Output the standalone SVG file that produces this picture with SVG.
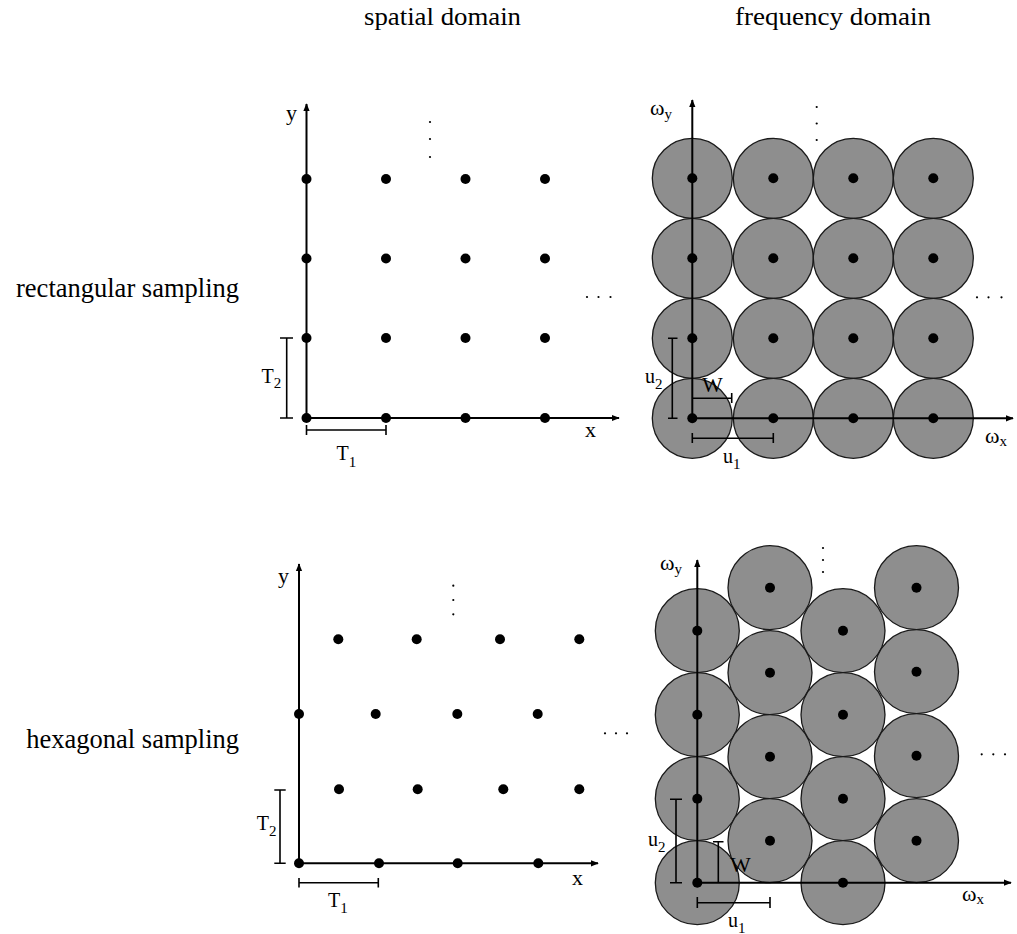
<svg xmlns="http://www.w3.org/2000/svg" width="1017" height="934" viewBox="0 0 1017 934">
<defs>
<style>
text{font-family:"Liberation Serif","Times New Roman",serif;fill:#000}
.h{font-size:26px}
.lab{font-size:26.5px}
.ax{font-size:22px}
.sm{font-size:20px}
.sub{font-size:15px}
.axis{stroke:#000;stroke-width:2;fill:none}
.br{stroke:#000;stroke-width:1.6;fill:none}
.c{fill:#8e8e8e;stroke:#1a1a1a;stroke-width:1.3}
</style>
<marker id="arr" viewBox="0 0 10 10" refX="9" refY="5" markerWidth="4" markerHeight="4" orient="auto"><path d="M0,1 L10,5 L0,9 z" fill="#000"/></marker>
<circle id="d" r="5" fill="#000"/>
<circle id="e" r="1.1" fill="#000"/>
</defs>
<rect width="1017" height="934" fill="#fff"/>

<g id="headers">
<text class="h" x="364" y="25" textLength="157" lengthAdjust="spacingAndGlyphs">spatial domain</text>
<text class="h" x="735" y="25" textLength="196" lengthAdjust="spacingAndGlyphs">frequency domain</text>
<text class="lab" x="239" y="297" text-anchor="end">rectangular sampling</text>
<text class="lab" x="239" y="748" text-anchor="end">hexagonal sampling</text>
</g>

<g id="rect-spatial">
<g id="rs-dots">
<use href="#d" x="306.5" y="179"/><use href="#d" x="386" y="179"/><use href="#d" x="465.5" y="179"/><use href="#d" x="545" y="179"/>
<use href="#d" x="306.5" y="258.5"/><use href="#d" x="386" y="258.5"/><use href="#d" x="465.5" y="258.5"/><use href="#d" x="545" y="258.5"/>
<use href="#d" x="306.5" y="338"/><use href="#d" x="386" y="338"/><use href="#d" x="465.5" y="338"/><use href="#d" x="545" y="338"/>
<use href="#d" x="306.5" y="418"/><use href="#d" x="386" y="418"/><use href="#d" x="465.5" y="418"/><use href="#d" x="545" y="418"/>
</g>
<g id="rs-ellipsis">
<use href="#e" x="430" y="122"/><use href="#e" x="430" y="139"/><use href="#e" x="430" y="157"/>
<use href="#e" x="587" y="297"/><use href="#e" x="598.5" y="297"/><use href="#e" x="610.5" y="297"/>
</g>
<g id="rs-labels">
<text class="ax" x="286" y="120">y</text>
<text class="ax" x="585" y="437">x</text>
<text class="sm" x="261.5" y="383">T<tspan class="sub" dy="5">2</tspan></text>
<text class="sm" x="336.5" y="460">T<tspan class="sub" dy="7">1</tspan></text>
</g>
</g>

<g id="rect-frequency">
<g id="rf-circles">
<circle class="c" cx="692.3" cy="178.3" r="40"/><circle class="c" cx="773.3" cy="178.3" r="40"/><circle class="c" cx="853.3" cy="178.3" r="40"/><circle class="c" cx="933.3" cy="178.3" r="40"/>
<circle class="c" cx="692.3" cy="258.3" r="40"/><circle class="c" cx="773.3" cy="258.3" r="40"/><circle class="c" cx="853.3" cy="258.3" r="40"/><circle class="c" cx="933.3" cy="258.3" r="40"/>
<circle class="c" cx="692.3" cy="338.3" r="40"/><circle class="c" cx="773.3" cy="338.3" r="40"/><circle class="c" cx="853.3" cy="338.3" r="40"/><circle class="c" cx="933.3" cy="338.3" r="40"/>
<circle class="c" cx="692.3" cy="418.3" r="40"/><circle class="c" cx="773.3" cy="418.3" r="40"/><circle class="c" cx="853.3" cy="418.3" r="40"/><circle class="c" cx="933.3" cy="418.3" r="40"/>
</g>
<g id="rf-dots">
<use href="#d" x="692.3" y="178.3"/><use href="#d" x="773.3" y="178.3"/><use href="#d" x="853.3" y="178.3"/><use href="#d" x="933.3" y="178.3"/>
<use href="#d" x="692.3" y="258.3"/><use href="#d" x="773.3" y="258.3"/><use href="#d" x="853.3" y="258.3"/><use href="#d" x="933.3" y="258.3"/>
<use href="#d" x="692.3" y="338.3"/><use href="#d" x="773.3" y="338.3"/><use href="#d" x="853.3" y="338.3"/><use href="#d" x="933.3" y="338.3"/>
<use href="#d" x="692.3" y="418.3"/><use href="#d" x="773.3" y="418.3"/><use href="#d" x="853.3" y="418.3"/><use href="#d" x="933.3" y="418.3"/>
</g>
<g id="rf-ellipsis">
<use href="#e" x="816.7" y="107"/><use href="#e" x="816.7" y="123.5"/><use href="#e" x="816.7" y="140"/>
<use href="#e" x="977" y="297.3"/><use href="#e" x="988.5" y="297.3"/><use href="#e" x="1001.5" y="297.3"/>
</g>
<g id="rf-labels">
<text class="ax" x="650" y="115">ω<tspan class="sub" dy="4">y</tspan></text>
<text class="ax" x="985" y="443">ω<tspan class="sub" dy="3">x</tspan></text>
<text class="sm" x="645" y="383">u<tspan class="sub" dy="6">2</tspan></text>
<text class="ax" x="702" y="392">W</text>
<text class="sm" x="723" y="463">u<tspan class="sub" dy="6">1</tspan></text>
</g>
</g>

<g id="hex-spatial">
<g id="hs-dots">
<use href="#d" x="338.3" y="639.3"/><use href="#d" x="416.7" y="639.3"/><use href="#d" x="500" y="639.3"/><use href="#d" x="579.3" y="639.3"/>
<use href="#d" x="299" y="714"/><use href="#d" x="375.7" y="714"/><use href="#d" x="457.3" y="714"/><use href="#d" x="537.7" y="714"/>
<use href="#d" x="339" y="789.3"/><use href="#d" x="417.7" y="789.3"/><use href="#d" x="503.3" y="789.3"/><use href="#d" x="579.3" y="789.3"/>
<use href="#d" x="299" y="863.3"/><use href="#d" x="379" y="863.3"/><use href="#d" x="457.7" y="863.3"/><use href="#d" x="538.3" y="863.3"/>
</g>
<g id="hs-ellipsis">
<use href="#e" x="453.3" y="585.7"/><use href="#e" x="453.3" y="600"/><use href="#e" x="453.3" y="614.3"/>
<use href="#e" x="605" y="733.3"/><use href="#e" x="616" y="733.3"/><use href="#e" x="627" y="733.3"/>
</g>
<g id="hs-labels">
<text class="ax" x="278" y="583">y</text>
<text class="ax" x="572" y="885">x</text>
<text class="sm" x="256.7" y="830">T<tspan class="sub" dy="6">2</tspan></text>
<text class="sm" x="328" y="906.7">T<tspan class="sub" dy="6">1</tspan></text>
</g>
</g>

<g id="hex-frequency">
<g id="hf-circles">
<circle class="c" cx="697.3" cy="630.7" r="42"/><circle class="c" cx="697.3" cy="714.7" r="42"/><circle class="c" cx="697.3" cy="798.7" r="42"/><circle class="c" cx="697.3" cy="882.7" r="42"/>
<circle class="c" cx="770" cy="587.7" r="42"/><circle class="c" cx="770" cy="672.7" r="42"/><circle class="c" cx="770" cy="756.7" r="42"/><circle class="c" cx="770" cy="840.7" r="42"/>
<circle class="c" cx="843" cy="630.7" r="42"/><circle class="c" cx="843" cy="714.7" r="42"/><circle class="c" cx="843" cy="798.7" r="42"/><circle class="c" cx="843" cy="882.7" r="42"/>
<circle class="c" cx="916.5" cy="587.7" r="42"/><circle class="c" cx="916.5" cy="671.7" r="42"/><circle class="c" cx="916.5" cy="755.7" r="42"/><circle class="c" cx="916.5" cy="840.7" r="42"/>
</g>
<g id="hf-dots">
<use href="#d" x="697.3" y="630.7"/><use href="#d" x="697.3" y="714.7"/><use href="#d" x="697.3" y="798.7"/><use href="#d" x="697.3" y="882.7"/>
<use href="#d" x="770" y="587.7"/><use href="#d" x="770" y="672.7"/><use href="#d" x="770" y="756.7"/><use href="#d" x="770" y="840.7"/>
<use href="#d" x="843" y="630.7"/><use href="#d" x="843" y="714.7"/><use href="#d" x="843" y="798.7"/><use href="#d" x="843" y="882.7"/>
<use href="#d" x="916.5" y="587.7"/><use href="#d" x="916.5" y="671.7"/><use href="#d" x="916.5" y="755.7"/><use href="#d" x="916.5" y="840.7"/>
</g>
<g id="hf-ellipsis">
<use href="#e" x="823" y="548"/><use href="#e" x="823" y="560"/><use href="#e" x="823" y="572"/>
<use href="#e" x="981.7" y="754.3"/><use href="#e" x="993.3" y="754.3"/><use href="#e" x="1005" y="754.3"/>
</g>
<g id="hf-labels">
<text class="ax" x="660" y="570">ω<tspan class="sub" dy="4">y</tspan></text>
<text class="ax" x="962" y="901">ω<tspan class="sub" dy="3">x</tspan></text>
<text class="sm" x="648" y="846">u<tspan class="sub" dy="6">2</tspan></text>
<text class="ax" x="730" y="872">W</text>
<text class="sm" x="728" y="927">u<tspan class="sub" dy="6">1</tspan></text>
</g>
</g>

<g id="connectors">
<line class="axis" x1="306.5" y1="418" x2="306.5" y2="104" marker-end="url(#arr)"/>
<line class="axis" x1="306.5" y1="418" x2="619" y2="418" marker-end="url(#arr)"/>
<line class="axis" x1="692.3" y1="418.3" x2="692.3" y2="100" marker-end="url(#arr)"/>
<line class="axis" x1="692.3" y1="418.3" x2="1013" y2="418.3" marker-end="url(#arr)"/>
<line class="axis" x1="299" y1="863.3" x2="299" y2="564" marker-end="url(#arr)"/>
<line class="axis" x1="299" y1="863.3" x2="598" y2="863.3" marker-end="url(#arr)"/>
<line class="axis" x1="697.3" y1="882.7" x2="697.3" y2="560" marker-end="url(#arr)"/>
<line class="axis" x1="697.3" y1="882.7" x2="1011" y2="882.7" marker-end="url(#arr)"/>
<path class="br" d="M286.7,338 V418 M280,338 H293 M280,418 H293"/>
<path class="br" d="M306.5,430 H386 M306.5,425 V435 M386,425 V435"/>
<path class="br" d="M672.3,338.3 V418.3 M668,338.3 H677.5 M668,418.3 H677.5"/>
<path class="br" d="M692.3,398.3 H731.7 M731.7,393 V403"/>
<path class="br" d="M692.3,438.3 H773.3 M692.3,433 V443 M773.3,433 V443"/>
<path class="br" d="M280,790 V863.3 M274.3,790 H285.7 M274.3,863.3 H285.7"/>
<path class="br" d="M299,882.7 H378.3 M299,878 V887.5 M378.3,878 V887.5"/>
<path class="br" d="M676,799.3 V882.7 M670,799.3 H682 M670,882.7 H682"/>
<path class="br" d="M718.3,841.7 V882.7 M713,841.7 H723.5"/>
<path class="br" d="M697.3,902.7 H770 M697.3,897 V908 M770,897 V908"/>
</g>
</svg>
